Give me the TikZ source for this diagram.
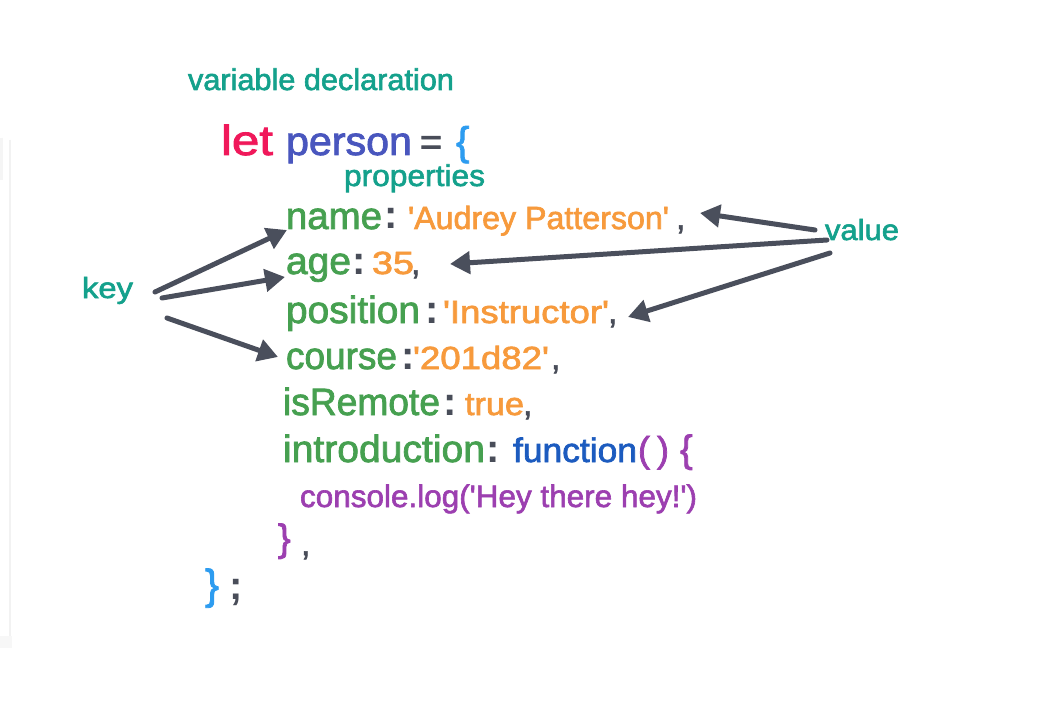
\documentclass[tikz,border=0pt]{standalone}
\usepackage{fontspec}
\setmainfont{Liberation Sans}[UprightFeatures={FakeBold=2}]
\usepackage{graphicx}
\usetikzlibrary{arrows.meta}
\definecolor{cteal}{HTML}{14A18C}
\definecolor{clet}{HTML}{F0185A}
\definecolor{cperson}{HTML}{4956BE}
\definecolor{ckey}{HTML}{46A050}
\definecolor{cval}{HTML}{F79A3C}
\definecolor{cdark}{HTML}{494D59}
\definecolor{cblue}{HTML}{2D9CF0}
\definecolor{cfunc}{HTML}{1C5BBF}
\definecolor{cpurple}{HTML}{9C3FB0}
\definecolor{carrow}{HTML}{4A4F5C}
\newcommand\fsz[1]{\fontsize{#1}{#1}\selectfont}
\newcommand\tokw[3]{{\fsz{#1}\resizebox{#2pt}{\height}{#3}}}
\newcommand\sq{\textquotesingle}
\begin{document}
\begin{tikzpicture}[x=1pt,y=-1pt,
  tok/.style={inner sep=0pt,outer sep=0pt,anchor=base west},
  arr/.style={draw=carrow,line width=5pt,line cap=round,-{Triangle[length=20pt,width=22pt]}}]
\useasboundingbox (0,0) rectangle (1051,703);
\fill[white] (0,0) rectangle (1051,703);
% faint panel edge
\draw[black!5,line width=2pt] (10,140) -- (10,636);
\fill[black!3] (0,636) rectangle (12,648);
\draw[black!4,line width=3pt] (1,138) -- (1,180);
% labels
\node[tok,text=cteal] (vardecl) at (188,90) {\tokw{30}{266}{variable declaration}};
\node[tok,text=cteal] (props) at (344,186) {\tokw{30}{141}{properties}};
\node[tok,text=cteal] (key) at (82,298) {\tokw{29}{51}{key}};
\node[tok,text=cteal] (value) at (825,240) {\tokw{29}{74}{value}};
% let person = {
\node[tok,text=clet] (let) at (221,155) {\tokw{42}{52}{let}};
\node[tok,text=cperson] (person) at (286,155) {\tokw{40}{126}{person}};
\node[tok,text=cdark] (eq) at (420,155) {\fsz{38}=};
\node[tok,text=cblue] (ob) at (456,155) {\fsz{40}\{};
% name
\node[tok,text=ckey] (kname) at (286,229) {\tokw{38}{96}{name}};
\node[tok,text=cdark] (c1) at (384,229) {\fsz{40}\bfseries :};
\node[tok,text=cval] (vname) at (408,229) {\tokw{32}{261}{\sq Audrey Patterson\sq}};
\node[tok,text=cdark] (m1) at (676,229) {\fsz{34},};
% age
\node[tok,text=ckey] (kage) at (286,274) {\tokw{38}{65}{age}};
\node[tok,text=cdark] (c2) at (352,274) {\fsz{40}\bfseries :};
\node[tok,text=cval] (vage) at (372,274) {\tokw{32}{42}{35}};
\node[tok,text=cdark] (m2) at (411,274) {\fsz{34},};
% position
\node[tok,text=ckey] (kpos) at (286,323) {\tokw{38}{134}{position}};
\node[tok,text=cdark] (c3) at (425,323) {\fsz{40}\bfseries :};
\node[tok,text=cval] (vpos) at (443,323) {\tokw{32}{166}{\sq Instructor\sq}};
\node[tok,text=cdark] (m3) at (608,323) {\fsz{34},};
% course
\node[tok,text=ckey] (kcourse) at (286,369) {\tokw{38}{111}{course}};
\node[tok,text=cdark] (c4) at (401,369) {\fsz{40}\bfseries :};
\node[tok,text=cval] (vcourse) at (413,369) {\tokw{32}{136}{\sq 201d82\sq}};
\node[tok,text=cdark] (m4) at (551,369) {\fsz{34},};
% isRemote
\node[tok,text=ckey] (kremote) at (283,415) {\tokw{38}{157}{isRemote}};
\node[tok,text=cdark] (c5) at (443,415) {\fsz{40}\bfseries :};
\node[tok,text=cval] (vremote) at (465,415) {\tokw{32}{59}{true}};
\node[tok,text=cdark] (m5) at (523,415) {\fsz{34},};
% introduction
\node[tok,text=ckey] (kintro) at (283,462) {\tokw{38}{202}{introduction}};
\node[tok,text=cdark] (c6) at (486,462) {\fsz{40}\bfseries :};
\node[tok,text=cfunc] (func) at (513,462) {\tokw{34}{124}{function}};
\node[tok,text=cpurple] (lp) at (638,462) {\fsz{36}(};
\node[tok,text=cpurple] (rp) at (657,462) {\fsz{36})};
\node[tok,text=cpurple] (fob) at (680,462) {\fsz{38}\{};
% body
\node[tok,text=cpurple] (console) at (300,507) {\tokw{31}{397}{console.log(\sq Hey there hey!\sq)}};
\node[tok,text=cpurple] (fcb) at (278,551) {\fsz{38}\}};
\node[tok,text=cdark] (m6) at (301,555) {\fsz{34},};
\node[tok,text=cblue] (cb) at (205,599) {\fsz{42}\}};
\node[tok,text=cdark] (semi) at (229,599) {\fsz{40}\bfseries ;};
% arrow ends
\coordinate (k1s) at (155,292); \coordinate (k1t) at (287,230);
\coordinate (k2s) at (162,298); \coordinate (k2t) at (285,277);
\coordinate (k3s) at (167,318); \coordinate (k3t) at (278,357);
\coordinate (v1s) at (815,230); \coordinate (v1t) at (700,213);
\coordinate (v2s) at (827,240); \coordinate (v2t) at (450,264);
\coordinate (v3s) at (830,253); \coordinate (v3t) at (628,317);
\draw[arr] (k1s) -- (k1t);
\draw[arr] (k2s) -- (k2t);
\draw[arr] (k3s) -- (k3t);
\draw[arr] (v1s) -- (v1t);
\draw[arr] (v2s) -- (v2t);
\draw[arr] (v3s) -- (v3t);
\end{tikzpicture}
\end{document}
